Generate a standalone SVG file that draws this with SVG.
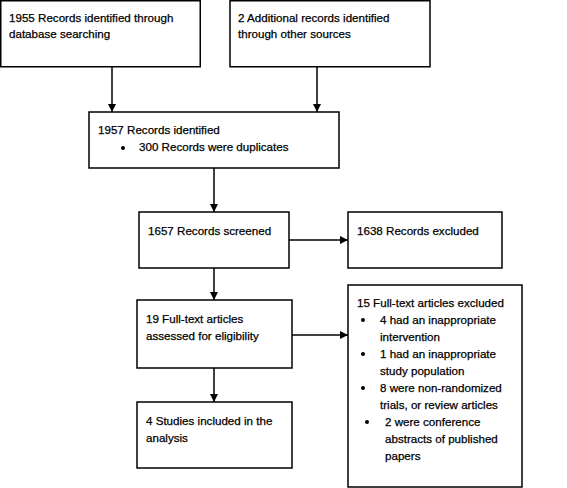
<svg xmlns="http://www.w3.org/2000/svg" width="567" height="488" viewBox="0 0 567 488">
<style>
rect{fill:#fff;stroke:#000;stroke-width:1.5}
text{font-family:"Liberation Sans",Arial,sans-serif;font-size:11.6px;fill:#000;stroke:#000;stroke-width:0.25}
.c line{stroke:#000;stroke-width:1.5;marker-end:url(#a)}
</style>
<defs>
<marker id="a" viewBox="0 0 8 8" refX="8" refY="4" markerWidth="8" markerHeight="8" markerUnits="userSpaceOnUse" orient="auto">
<path d="M0,0L8,4L0,8z" fill="#000"/>
</marker>
</defs>
<rect x="0" y="0" width="567" height="488" style="stroke:none"/>
<g id="n1"><rect x="0.75" y="0.75" width="199.5" height="66"/>
<text x="9" y="22">1955 Records identified through</text><text x="9" y="38">database searching</text></g>
<g id="n2"><rect x="230" y="0.75" width="200" height="66"/>
<text x="238" y="22">2 Additional records identified</text><text x="238" y="38">through other sources</text></g>
<g id="n3"><rect x="89" y="112" width="250" height="56"/>
<text x="98" y="134">1957 Records identified</text>
<circle cx="123" cy="148" r="2"/><text x="139" y="151">300 Records were duplicates</text></g>
<g id="n4"><rect x="139" y="212" width="150" height="56"/>
<text x="148" y="235">1657 Records screened</text></g>
<g id="n5"><rect x="348" y="212" width="154" height="56"/>
<text x="357" y="235">1638 Records excluded</text></g>
<g id="n6"><rect x="137" y="300" width="155" height="68"/>
<text x="146" y="323">19 Full-text articles</text><text x="146" y="340">assessed for eligibility</text></g>
<g id="n7"><rect x="348" y="285" width="174" height="202"/>
<text x="357" y="307">15 Full-text articles excluded</text>
<circle cx="363" cy="320" r="2"/><text x="380" y="324">4 had an inappropriate</text><text x="380" y="341">intervention</text>
<circle cx="363" cy="354" r="2"/><text x="380" y="358">1 had an inappropriate</text><text x="380" y="375">study population</text>
<circle cx="363" cy="388" r="2"/><text x="380" y="392">8 were non-randomized</text><text x="380" y="409">trials, or review articles</text>
<circle cx="367" cy="422" r="2"/><text x="385" y="426">2 were conference</text><text x="385" y="443">abstracts of published</text><text x="385" y="460">papers</text></g>
<g id="n8"><rect x="137" y="402" width="155" height="66"/>
<text x="146" y="425">4 Studies included in the</text><text x="146" y="442">analysis</text></g>
<g class="c" id="connectors">
<line x1="112" y1="67" x2="112" y2="112"/>
<line x1="317" y1="67" x2="317" y2="112"/>
<line x1="214" y1="168" x2="214" y2="212"/>
<line x1="289" y1="240" x2="348" y2="240"/>
<line x1="214" y1="268" x2="214" y2="300"/>
<line x1="292" y1="335" x2="348" y2="335"/>
<line x1="214" y1="368" x2="214" y2="402"/>
</g>
</svg>
